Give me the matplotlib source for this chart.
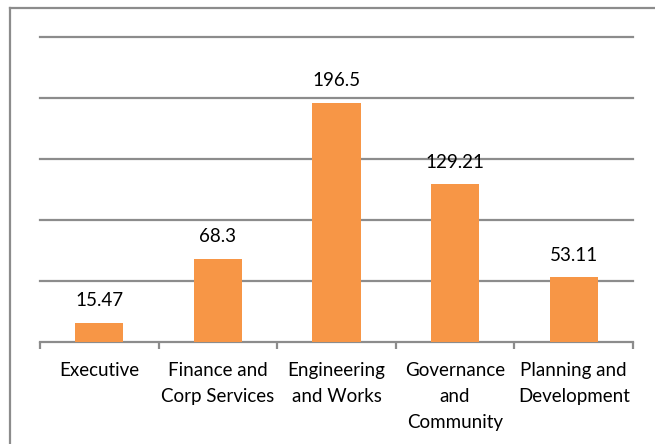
import numpy as np
import matplotlib.pyplot as plt
from matplotlib.lines import Line2D

categories = ["Executive", "Finance and\nCorp Services", "Engineering\nand Works",
              "Governance\nand\nCommunity", "Planning and\nDevelopment"]
values = [15.47, 68.3, 196.5, 129.21, 53.11]
value_labels = ["15.47", "68.3", "196.5", "129.21", "53.11"]


def main():
    plt.rcParams["font.family"] = ["Lato", "DejaVu Sans"]

    W, H = 655, 444
    fig = plt.figure(figsize=(W / 100, H / 100), dpi=100)

    # outer chart border (only top and left visible in the reference)
    fig.add_artist(Line2D([10 / W, 10 / W], [0, 1 - 8 / H], color="#8c8c8c", lw=1.6,
                          transform=fig.transFigure))
    fig.add_artist(Line2D([10 / W, 1], [1 - 8 / H, 1 - 8 / H], color="#8c8c8c", lw=1.6,
                          transform=fig.transFigure))

    left, right, top, bottom = 40, 633, 37.5, 341.7
    ax = fig.add_axes([left / W, 1 - bottom / H, (right - left) / W, (bottom - top) / H])

    x = np.arange(len(categories))
    ax.bar(x, values, width=0.405, color="#f79646", zorder=3)

    for xi, v, lab in zip(x, values, value_labels):
        ax.text(xi, v + 13.5, lab, ha="center", va="baseline", fontsize=13.5,
                color="#000000")

    ax.set_xlim(-0.5, len(categories) - 0.5)
    ax.set_ylim(0, 250)
    for g in [50, 100, 150, 200, 250]:
        ax.axhline(g, color="#8c8c8c", lw=1.6, zorder=1, clip_on=False)

    for s in ["top", "right", "left"]:
        ax.spines[s].set_visible(False)
    ax.spines["bottom"].set_color("#8c8c8c")
    ax.spines["bottom"].set_linewidth(1.6)

    ax.set_yticks([])
    ax.set_xticks(np.arange(-0.5, len(categories)), minor=False)
    ax.set_xticklabels([])
    ax.tick_params(axis="x", length=5, width=1.6, color="#8c8c8c")
    for xi, c in zip(x, categories):
        ax.text(xi, -16.5, c, ha="center", va="top", fontsize=13.5, linespacing=1.66,
                color="#000000")

    fig.savefig("out.png", dpi=100)


if __name__ == "__main__":
    main()
